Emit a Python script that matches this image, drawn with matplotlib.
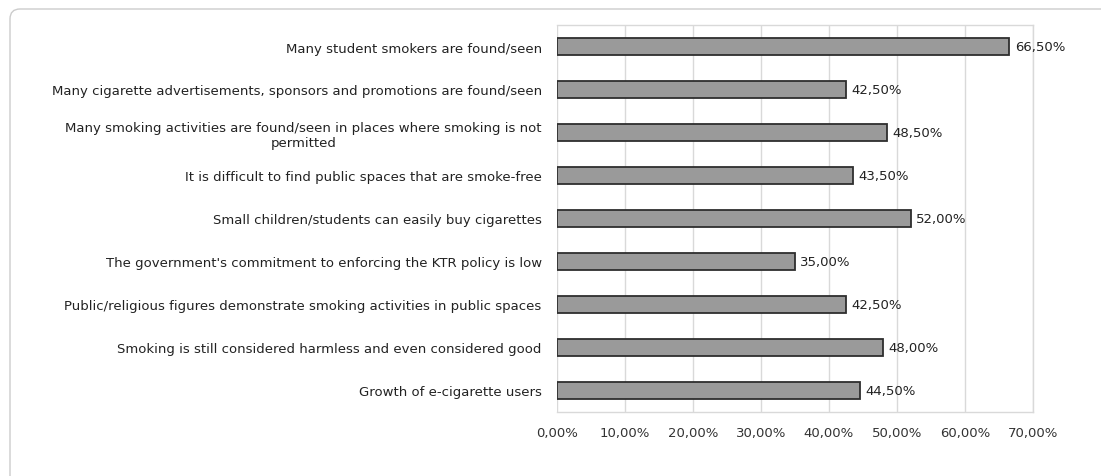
import matplotlib
matplotlib.use("Agg")
import matplotlib.pyplot as plt
from matplotlib.patches import FancyBboxPatch
from matplotlib.transforms import IdentityTransform
from matplotlib.ticker import FuncFormatter

plt.rcParams["font.family"] = ["DejaVu Sans"]

categories = [
    "Many student smokers are found/seen",
    "Many cigarette advertisements, sponsors and promotions are found/seen",
    "Many smoking activities are found/seen in places where smoking is not\npermitted",
    "It is difficult to find public spaces that are smoke-free",
    "Small children/students can easily buy cigarettes",
    "The government's commitment to enforcing the KTR policy is low",
    "Public/religious figures demonstrate smoking activities in public spaces",
    "Smoking is still considered harmless and even considered good",
    "Growth of e-cigarette users",
]
values = [66.5, 42.5, 48.5, 43.5, 52.0, 35.0, 42.5, 48.0, 44.5]
x_ticks = [0, 10, 20, 30, 40, 50, 60, 70]


def pct(v, _=None):
    return f"{v:.2f}%".replace(".", ",")


fig = plt.figure(figsize=(11.01, 4.77), dpi=100)
ax = fig.add_axes([557 / 1101, 1 - 413 / 477, (1033 - 557) / 1101, (413 - 26) / 477])

# rounded frame around the chart (pixel coords, runs off right/bottom)
frame = FancyBboxPatch((10, -30), 1200, 477 - 10 + 30,
                       boxstyle="round,pad=0,rounding_size=10",
                       transform=IdentityTransform(), facecolor="none",
                       edgecolor="#cccccc", linewidth=1.0)
fig.patches.append(frame)

y = list(range(len(categories)))
bars = ax.barh(y, values, height=0.4, color="#9a9a9a", edgecolor="#2e2e2e", linewidth=1.3, zorder=3)
for b, v in zip(bars, values):
    ax.text(b.get_width() + 0.8, b.get_y() + b.get_height() / 2, pct(v),
            va="center", ha="left", fontsize=9.5, color="#222222")

ax.set_yticks(y)
ax.set_yticklabels(categories, fontsize=9.5, color="#222222", multialignment="center")
ax.set_ylim(len(categories) - 0.5, -0.5)

ax.set_xlim(0, 70)
ax.set_xticks(x_ticks)
ax.xaxis.set_major_formatter(FuncFormatter(pct))
ax.tick_params(axis="x", labelsize=9.5, labelcolor="#333333", length=0, pad=10)
ax.tick_params(axis="y", length=0, pad=11)
ax.grid(True, axis="x", color="#d9d9d9", linewidth=1.0, zorder=0)
for s in ax.spines.values():
    s.set_color("#d9d9d9")
    s.set_linewidth(1.0)
ax.spines["left"].set_visible(False)

fig.savefig("out.png", dpi=100)
